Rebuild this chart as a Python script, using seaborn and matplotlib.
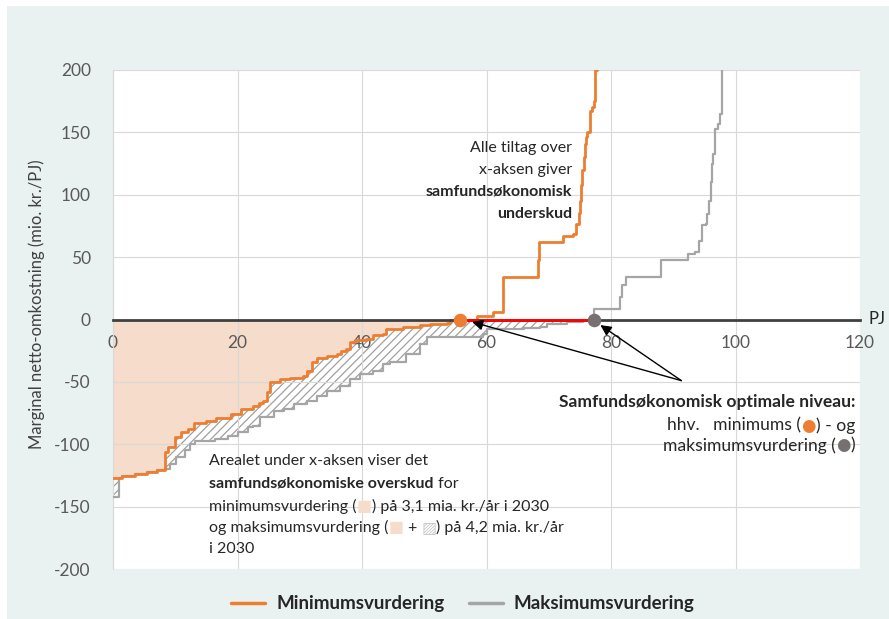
import numpy as np
import pandas as pd
import matplotlib
matplotlib.use("Agg")
import matplotlib.pyplot as plt
from matplotlib.patches import Rectangle
from matplotlib.lines import Line2D
import seaborn as sns

# ---------------- data ----------------
min_x = [0, 1.5, 3.5, 5.5, 7.0, 8.4, 8.9, 10.0, 11.0, 12.0, 13.0, 15.0, 16.5, 19.0,
         20.5, 22.5, 23.5, 24.1, 24.7, 25.2, 26.8, 28.4, 30.5, 31.1, 31.9, 32.7,
         34.3, 36.0, 36.7, 37.5, 38.1, 38.9, 40.7, 41.8, 43.4, 43.9, 46.6, 49.3,
         50.9, 53.6, 54.1, 55.7, 58.4, 61.1, 62.7, 68.3, 68.5, 72.3, 73.9, 74.4,
         74.8, 75.0, 75.2, 75.4, 75.6, 75.8, 76.0, 76.2, 76.6, 76.9, 77.3, 77.5,
         77.7, 77.7]
min_y = [-127, -125.5, -124, -122, -120.5, -106, -102, -94, -90, -88, -83, -81, -79,
         -75.5, -71.5, -69, -67, -65, -58, -50, -47.5, -46.8, -45, -41, -34, -30.7,
         -29, -27.5, -25, -23.5, -18.2, -16.8, -15.5, -12.8, -11.5, -7.5, -6.2,
         -4.8, -3.5, -2.9, -0.8, 0, 3.2, 5.9, 33.9, 47.3, 62, 67.3, 68.7, 76.7,
         85, 95, 108, 120, 130, 141, 146, 150, 167.5, 170, 175.5, 200, 205, 215]
max_x = [0, 0.9, 1.5, 3.5, 5.5, 7.0, 8.4, 9.2, 10.2, 11.6, 12.4, 13.2, 16.4, 18.5,
         20.1, 21.7, 22.5, 23.6, 25.8, 27.4, 29.0, 31.1, 32.7, 34.3, 36.5, 38.1,
         39.7, 41.8, 43.4, 44.5, 47.0, 49.3, 50.4, 59.5, 60.0, 66.0, 68.6, 69.7,
         72.9, 75.5, 77.2, 77.3, 81.4, 81.7, 82.4, 88.1, 92.4, 93.5, 94.1, 94.6,
         95.2, 95.5, 95.8, 96.0, 96.2, 96.4, 96.7, 97.2, 97.5, 97.9, 97.9]
max_y = [-142, -127, -125.5, -124, -122, -120.5, -119.5, -115.7, -110.4, -105,
         -99.6, -97, -95.6, -93, -90.3, -86.3, -85, -78.3, -73, -71.6, -67.6, -65,
         -61, -57, -53, -47.5, -43.5, -40.9, -35.5, -34.2, -28, -19.5, -14.2,
         -11.5, -8, -7, -6.2, -3.5, -2.1, -0.8, 0, 8.6, 17.9, 27.3, 33.9, 47.3,
         52.6, 54, 63.3, 75.4, 76.7, 84.7, 95, 110, 125, 132.8, 152.9, 156.8,
         164.9, 200, 215]

opt_min = 55.7
opt_max = 77.2
x_ticks = [0, 20, 40, 60, 80, 100, 120]
y_ticks = [-200, -150, -100, -50, 0, 50, 100, 150, 200]
series_names = ["Minimumsvurdering", "Maksimumsvurdering"]

ORANGE = "#ed7d31"
GRAY = "#a5a5a5"
DOTGRAY = "#767171"
PEACH = "#f5dccb"
MINT = "#e9f2f1"
TXT = "#262626"

# ---------------- style ----------------
sns.set_theme(style="whitegrid")
plt.rcParams["font.family"] = ["Lato", "DejaVu Sans"]
plt.rcParams["hatch.linewidth"] = 0.9
plt.rcParams["axes.unicode_minus"] = False

fig = plt.figure(figsize=(8.89, 6.19), dpi=100)
fig.patch.set_facecolor("white")
fig.patches.append(Rectangle((7 / 889, 0), 1, 1 - 6 / 619, transform=fig.transFigure,
                             facecolor=MINT, edgecolor="none", zorder=-10))
ax = fig.add_axes([113 / 889, 1 - 569 / 619, (860 - 113) / 889, (569 - 70) / 619])
ax.set_facecolor("white")

df = pd.concat([
    pd.DataFrame({"x": min_x, "y": min_y, "serie": series_names[0]}),
    pd.DataFrame({"x": max_x, "y": max_y, "serie": series_names[1]}),
])

# fills
mx = np.array(min_x); my = np.array(min_y)
Mx = np.array(max_x); My = np.array(max_y)
grid = np.unique(np.concatenate([mx, Mx]))
grid = grid[grid <= opt_max]

def step_eval(xs, ys, g):
    idx = np.searchsorted(xs, g, side="right") - 1
    return ys[np.clip(idx, 0, len(ys) - 1)]

o = np.minimum(step_eval(mx, my, grid), 0)
gq = np.minimum(step_eval(Mx, My, grid), 0)
ax.fill_between(grid, o, 0, step="post", facecolor=PEACH, edgecolor="none",
                linewidth=0, zorder=0.2)
ax.fill_between(grid, gq, o, step="post", facecolor="none", edgecolor="#a0a0a0",
                hatch="////", linewidth=0, zorder=0.3)

# lines
sns.lineplot(data=df[df.serie == series_names[1]], x="x", y="y", color=GRAY,
             estimator=None, sort=False, drawstyle="steps-post", linewidth=1.6,
             ax=ax, legend=False, zorder=3)
sns.lineplot(data=df[df.serie == series_names[0]], x="x", y="y", color=ORANGE,
             estimator=None, sort=False, drawstyle="steps-post", linewidth=2.0,
             ax=ax, legend=False, zorder=3.2)

# optimal segment & points
ax.plot([opt_min, opt_max], [0, 0], color="#ff0000", lw=2.0, zorder=4, solid_capstyle="butt")
ax.scatter([opt_min], [0], s=95, color=ORANGE, zorder=5, linewidths=0)
ax.scatter([opt_max], [0], s=95, color=DOTGRAY, zorder=5, linewidths=0)

# axes
ax.set_xlim(0, 120)
ax.set_ylim(-200, 200)
ax.set_xticks(x_ticks)
ax.set_yticks(y_ticks)
ax.grid(True, color="#d9d9d9", linewidth=0.8)
ax.set_axisbelow(True)
for s in ["top", "right"]:
    ax.spines[s].set_visible(False)
ax.spines["left"].set_color("#d9d9d9")
ax.spines["left"].set_linewidth(0.8)
ax.spines["bottom"].set_position(("data", 0))
ax.spines["bottom"].set_color("#404040")
ax.spines["bottom"].set_linewidth(2.0)
ax.spines["bottom"].set_zorder(3.5)
ax.tick_params(axis="x", length=0, pad=11, labelsize=12.5, labelcolor="#595959")
ax.tick_params(axis="y", length=0, pad=16, labelsize=12.5, labelcolor="#595959")
ax.set_xlabel("")
ax.set_ylabel("Marginal netto-omkostning (mio. kr./PJ)", fontsize=12, color="#404040")
ax.yaxis.set_label_coords(-0.091, 0.53)
ax.text(121.3, 0, "PJ", ha="left", va="center", fontsize=12, color=TXT, clip_on=False)

# arrows
for tip in [(57.7, -2.0), (78.3, -4.5)]:
    ax.annotate("", xy=tip, xytext=(91.3, -49), zorder=6,
                arrowprops=dict(arrowstyle="-|>", color="black", lw=1.0,
                                mutation_scale=16, shrinkA=0, shrinkB=0))

FS = 11.5
FS2 = 12.6

def chain_left(x, y, pieces, fs=FS):
    prev = None
    for txt, kw in pieces:
        kw = dict(kw)
        kw.setdefault("color", TXT)
        kw.setdefault("fontsize", fs)
        if prev is None:
            prev = ax.text(x, y, txt, ha="left", va="center", **kw)
        else:
            prev = ax.annotate(txt, xy=(1, 0.5), xycoords=prev, ha="left", va="center", **kw)

def chain_right(x, y, pieces, fs=FS):
    prev = None
    for txt, kw in reversed(pieces):
        kw = dict(kw)
        kw.setdefault("color", TXT)
        kw.setdefault("fontsize", fs)
        if prev is None:
            prev = ax.text(x, y, txt, ha="right", va="center", **kw)
        else:
            prev = ax.annotate(txt, xy=(0, 0.5), xycoords=prev, ha="right", va="center", **kw)

B = {"fontweight": "bold"}
N = {}
# upper-right note
chain_right(73.7, 137.6, [("Alle tiltag over", N)])
chain_right(73.7, 120.0, [("x-aksen giver", N)])
chain_right(73.7, 102.8, [("samfundsøkonomisk", B)])
chain_right(73.7, 84.7, [("underskud", B)])

# optimal level note
DOT = {"fontsize": 12, "family": ["DejaVu Sans"]}
chain_right(119.2, -66.3, [("Samfundsøkonomisk optimale niveau:", B)], fs=FS2)
chain_right(119.2, -85.0, [("hhv.   minimums (", N),
                           ("●", dict(DOT, color=ORANGE)),
                           (") - og", N)], fs=FS2)
chain_right(119.2, -101.0, [("maksimumsvurdering (", N),
                            ("●", dict(DOT, color=DOTGRAY)),
                            (")", N)], fs=FS2)

# area note
chain_left(15.5, -113.6, [("Arealet under x-aksen viser det", N)])
chain_left(15.5, -131.7, [("samfundsøkonomiske overskud", B), (" for", N)])
chain_left(15.5, -149.9, [("minimumsvurdering (", N), ("■", {"color": PEACH}),
                          (") på 3,1 mia. kr./år i 2030", N)])
chain_left(15.5, -167.0, [("og maksimumsvurdering (", N), ("■", {"color": PEACH}),
                          (" + ", N), ("▨", {"color": "#c8c8c8"}),
                          (") på 4,2 mia. kr./år", N)])
chain_left(15.5, -183.8, [("i 2030", N)])

# legend
handles = [Line2D([], [], color=ORANGE, lw=2.5), Line2D([], [], color=GRAY, lw=2.5)]
fig.legend(handles, series_names, loc="center", bbox_to_anchor=(463 / 889, 1 - 604 / 619),
           ncol=2, frameon=False, prop={"weight": "bold", "size": 13.5},
           handlelength=1.8, columnspacing=1.3, handletextpad=0.6)

fig.savefig("out.png", dpi=100, facecolor=fig.get_facecolor())
